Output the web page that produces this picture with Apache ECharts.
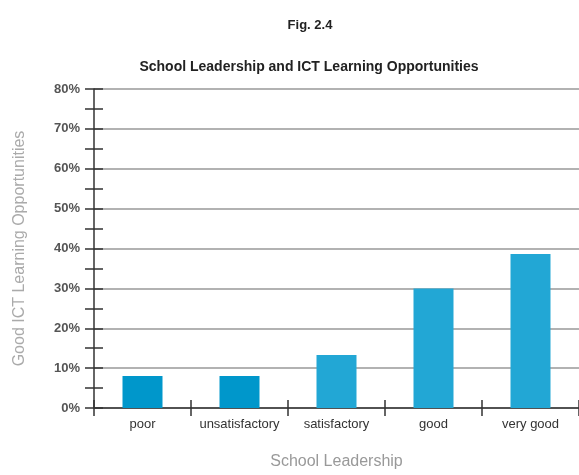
<!DOCTYPE html>
<html>
<head>
<meta charset="utf-8">
<script src="https://cdn.jsdelivr.net/npm/echarts@6/dist/echarts.min.js"></script>
<style>
  html, body { margin: 0; padding: 0; background: #fff; }
  #chartmain { width: 579px; height: 475px; }
</style>
</head>
<body>
<div id="chartmain"></div>
<script>
// 数据
var categories = ['poor', 'unsatisfactory', 'satisfactory', 'good', 'very good'];
var shares = [8, 8, 13.3, 30, 38.6];
var barColors = ['#0097cb', '#0097cb', '#22a7d5', '#22a7d5', '#22a7d5'];
var yTicks = { min: 0, max: 80, step: 10 };

var font = '"Liberation Sans", Arial, sans-serif';

var myChart = echarts.init(document.getElementById('chartmain'));

var option = {
    animation: false,
    textStyle: { fontFamily: font },
    title: [
        { text: 'Fig. 2.4', left: 305, top: 14, textAlign: 'center',
          textStyle: { fontSize: 13, fontWeight: 'bold', color: '#222', fontFamily: font } },
        { text: 'School Leadership and ICT Learning Opportunities', left: 304, top: 55, textAlign: 'center',
          textStyle: { fontSize: 14, fontWeight: 'bold', color: '#222', fontFamily: font } }
    ],
    grid: { left: 94, top: 89, width: 486, height: 324, containLabel: false },
    xAxis: [
        {
            type: 'category',
            data: categories,
            position: 'bottom',
            name: 'School Leadership',
            nameLocation: 'middle',
            nameGap: 46,
            nameTextStyle: { fontSize: 16, color: '#999', fontFamily: font },
            axisLine: { lineStyle: { color: '#333', width: 1.5 } },
            axisTick: { show: true, length: 8, lineStyle: { color: '#333', width: 1.5 } },
            axisLabel: { interval: 0, hideOverlap: false, fontSize: 13, color: '#333', margin: 10, fontFamily: font }
        },
        {
            type: 'category',
            data: categories,
            position: 'bottom',
            axisLine: { show: false },
            axisTick: { show: true, inside: true, length: 8, lineStyle: { color: '#333', width: 1.5 } },
            axisLabel: { show: false }
        }
    ],
    yAxis: [
        {
            type: 'value',
            min: yTicks.min,
            max: yTicks.max,
            interval: yTicks.step,
            position: 'left',
            name: 'Good ICT Learning Opportunities',
            nameLocation: 'middle',
            nameGap: 66,
            nameTextStyle: { fontSize: 16, color: '#aaa', fontFamily: font },
            axisLine: { show: true, lineStyle: { color: '#333', width: 1.5 } },
            axisTick: { show: true, length: 9, lineStyle: { color: '#333', width: 1.5 } },
            minorTick: { show: true, splitNumber: 2, length: 9, lineStyle: { color: '#333', width: 1.5 } },
            axisLabel: { formatter: '{value}%', fontSize: 13, fontWeight: 'bold', color: '#555', margin: 14, fontFamily: font },
            splitLine: { show: true, lineStyle: { color: '#999', width: 1.5 } }
        },
        {
            type: 'value',
            min: yTicks.min,
            max: yTicks.max,
            interval: yTicks.step,
            position: 'left',
            axisLine: { show: false },
            axisTick: { show: true, inside: true, length: 9, lineStyle: { color: '#333', width: 1.5 } },
            minorTick: { show: true, splitNumber: 2, length: 9, lineStyle: { color: '#333', width: 1.5 } },
            axisLabel: { show: false },
            splitLine: { show: false }
        }
    ],
    series: [{
        type: 'bar',
        xAxisIndex: 0,
        yAxisIndex: 0,
        barWidth: 40,
        data: shares.map(function (v, i) {
            return { value: v, itemStyle: { color: barColors[i] } };
        })
    }]
};

myChart.setOption(option);
</script>
</body>
</html>
